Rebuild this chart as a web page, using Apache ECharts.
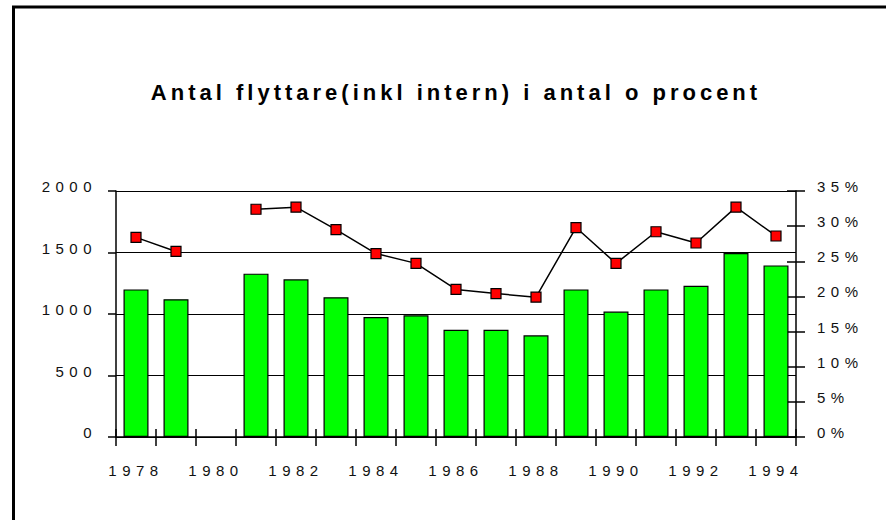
<!DOCTYPE html>
<html>
<head>
<meta charset="utf-8">
<script src="https://cdn.jsdelivr.net/npm/echarts@6/dist/echarts.min.js"></script>
<style>
  html, body { margin: 0; padding: 0; background: #fff; }
  #main { width: 886px; height: 520px; letter-spacing: 5.5px; }
  #main text[style*="bold"] { letter-spacing: 4px; }
</style>
</head>
<body>
<div id="main"></div>
<script>
// Years on the category axis
const years = ['1978','1979','1980','1981','1982','1983','1984','1985','1986',
               '1987','1988','1989','1990','1991','1992','1993','1994'];
// Number of movers (left axis); 1980 has no value
const movers = [1200, 1120, null, 1328, 1282, 1136, 975, 990, 872,
                872, 827, 1200, 1020, 1200, 1230, 1495, 1395];
// Movers as percent (right axis)
const moversPct = [28.4, 26.4, null, 32.4, 32.7, 29.5, 26.1, 24.7, 21.0,
                   20.4, 19.9, 29.8, 24.7, 29.2, 27.6, 32.7, 28.6];
// Left and right axis ranges
const countMax = 2000, countStep = 500;
const pctMax = 35, pctStep = 5;

const FONT = '"Liberation Sans", Arial, sans-serif';
const chart = echarts.init(document.getElementById('main'), null, { renderer: 'svg' });

const labelStyle = { color: '#111', fontFamily: FONT, fontSize: 15 };
// y-axis labels sit slightly above their tick
const raisedLabel = { verticalAlign: 'bottom', lineHeight: 9 };

chart.setOption({
  animation: false,
  backgroundColor: '#fff',
  title: {
    text: 'Antal flyttare(inkl intern) i antal o procent',
    left: 451,
    textAlign: 'center',
    top: 76,
    textStyle: { color: '#000', fontFamily: FONT, fontSize: 22, fontWeight: 'bold' }
  },
  graphic: [{
    type: 'rect',
    shape: { x: 13.5, y: 7, width: 1000, height: 1000 },
    style: { fill: 'none', stroke: '#000', lineWidth: 3 },
    silent: true
  }],
  grid: { left: 116, right: 90, top: 191, bottom: 83 },
  xAxis: [{
    type: 'category',
    data: years,
    boundaryGap: true,
    axisLine: { lineStyle: { color: '#000', width: 1.5 } },
    axisTick: { show: true, length: 9, interval: 0, lineStyle: { color: '#000', width: 1.5 } },
    axisLabel: Object.assign({ interval: 1, margin: 26 }, labelStyle),
    splitLine: { show: false }
  }, {
    type: 'category',
    data: years,
    position: 'bottom',
    boundaryGap: true,
    axisLine: { show: false },
    axisTick: { show: true, inside: true, length: 8, interval: 0, lineStyle: { color: '#000', width: 1.5 } },
    axisLabel: { show: false },
    splitLine: { show: false }
  }],
  yAxis: [{
    type: 'value',
    min: 0, max: countMax, interval: countStep,
    position: 'left',
    axisLine: { show: true, lineStyle: { color: '#000', width: 1.5 } },
    axisTick: { show: true, length: 8, lineStyle: { color: '#000', width: 1.5 } },
    axisLabel: Object.assign({ margin: 19, formatter: v => String(v) }, labelStyle, raisedLabel),
    splitLine: { show: true, lineStyle: { color: '#000', width: 1.2 } }
  }, {
    type: 'value',
    min: 0, max: pctMax, interval: pctStep,
    position: 'right',
    axisLine: { show: true, lineStyle: { color: '#000', width: 1.5 } },
    axisTick: { show: true, length: 9, lineStyle: { color: '#000', width: 1.5 } },
    axisLabel: Object.assign({ margin: 21, formatter: '{value}%' }, labelStyle, raisedLabel),
    splitLine: { show: false }
  }, {
    type: 'value',
    min: 0, max: pctMax, interval: pctStep,
    position: 'right',
    axisLine: { show: false },
    axisTick: { show: true, inside: true, length: 9, lineStyle: { color: '#000', width: 1.5 } },
    axisLabel: { show: false },
    splitLine: { show: false }
  }],
  series: [{
    name: 'Antal',
    type: 'bar',
    xAxisIndex: 0,
    yAxisIndex: 0,
    data: movers,
    barWidth: 25,
    itemStyle: { color: '#00ff00', borderColor: '#000', borderWidth: 1.2 },
    z: 2
  }, {
    name: 'Procent',
    type: 'line',
    xAxisIndex: 0,
    yAxisIndex: 1,
    data: moversPct,
    connectNulls: false,
    symbol: 'rect',
    symbolSize: 10,
    lineStyle: { color: '#000', width: 1.5 },
    itemStyle: { color: '#ff0000', borderColor: '#000', borderWidth: 1.2 },
    z: 3
  }]
});
</script>
</body>
</html>
